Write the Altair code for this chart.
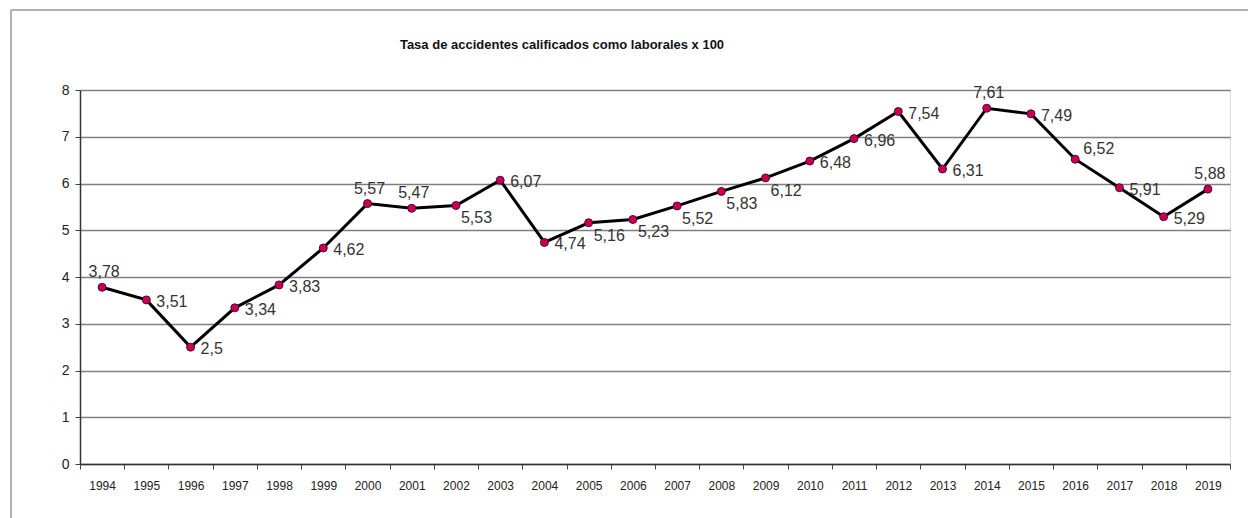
import altair as alt
import pandas as pd

anios = [str(y) for y in range(1994, 2020)]
tasa = [3.78, 3.51, 2.5, 3.34, 3.83, 4.62, 5.57, 5.47, 5.53, 6.07, 4.74, 5.16, 5.23,
        5.52, 5.83, 6.12, 6.48, 6.96, 7.54, 6.31, 7.61, 7.49, 6.52, 5.91, 5.29, 5.88]
posicion = ["arriba", "derecha", "derecha", "derecha", "derecha", "derecha", "arriba",
            "arriba", "abajo", "derecha", "derecha", "abajo", "abajo", "abajo", "abajo",
            "abajo", "derecha", "derecha", "derecha", "derecha", "arriba", "derecha",
            "arriba_der", "derecha", "derecha", "arriba"]

df = pd.DataFrame({"anio": anios, "tasa": tasa, "pos": posicion})

FONT = "Liberation Sans Narrow, Arial Narrow, Liberation Sans, sans-serif"

base = alt.Chart(df).transform_calculate(
    etiqueta="replace(toString(datum.tasa), '.', ',')"
)

x = alt.X("anio:N", title=None, sort=anios,
          scale=alt.Scale(paddingInner=0, paddingOuter=0),
          axis=alt.Axis(labelAngle=0, tickBand="extent", labelFont=FONT, labelFontSize=12,
                        labelColor="#222", labelPadding=11, tickSize=5, tickColor="#444",
                        domainColor="#333", domainWidth=1.5, grid=False))
y = alt.Y("tasa:Q", title=None,
          scale=alt.Scale(domain=[0, 8], nice=False),
          axis=alt.Axis(values=list(range(0, 9)), labelFont=FONT, labelFontSize=14,
                        labelColor="#222", labelPadding=6, tickSize=5, tickColor="#444",
                        domainColor="#333", domainWidth=1.5, gridColor="#808080",
                        gridWidth=1.5, gridOpacity=1))

linea = base.mark_line(color="black", strokeWidth=3).encode(x=x, y=y)
puntos = base.mark_point(filled=False, fill="#d0003c", fillOpacity=1, stroke="#3a0a6a",
                         strokeWidth=1, size=64, shape="circle", opacity=1).encode(x=x, y=y)

def etiquetas(pos, **kw):
    return base.transform_filter(alt.datum.pos == pos).mark_text(
        font=FONT, fontSize=16, color="#333", **kw
    ).encode(x=alt.X("anio:N", sort=anios), y="tasa:Q", text="etiqueta:N")

t_der = etiquetas("derecha", align="left", baseline="middle", dx=10, dy=2)
t_arr = etiquetas("arriba", align="center", baseline="bottom", dx=2, dy=-7)
t_abj = etiquetas("abajo", align="left", baseline="top", dx=5, dy=5)
t_ard = etiquetas("arriba_der", align="left", baseline="bottom", dx=8, dy=-2)

marco_izq = alt.Chart(df.head(1)).mark_rule(color="#999", strokeWidth=1.5).encode(
    x=alt.value(-69), y=alt.value(-80), y2=alt.value(440))
marco_sup = alt.Chart(df.head(1)).mark_rule(color="#999", strokeWidth=1.5).encode(
    x=alt.value(-69), x2=alt.value(1180), y=alt.value(-80))

chart = alt.layer(marco_izq, marco_sup, linea, puntos, t_der, t_arr, t_abj, t_ard).properties(
    width=1150, height=374,
    title=alt.TitleParams("Tasa de accidentes calificados como laborales x 100",
                          font=FONT, fontSize=13, fontWeight="bold", color="#111",
                          anchor="middle", dx=-93, offset=-43),
    autosize=alt.AutoSizeParams(type="none"),
    padding={"left": 80, "top": 90, "right": 18, "bottom": 54},
).configure_view(stroke="#888", strokeWidth=1.5).configure(background="white")

chart.save("out.html", embed_options={"renderer": "svg", "actions": False})
